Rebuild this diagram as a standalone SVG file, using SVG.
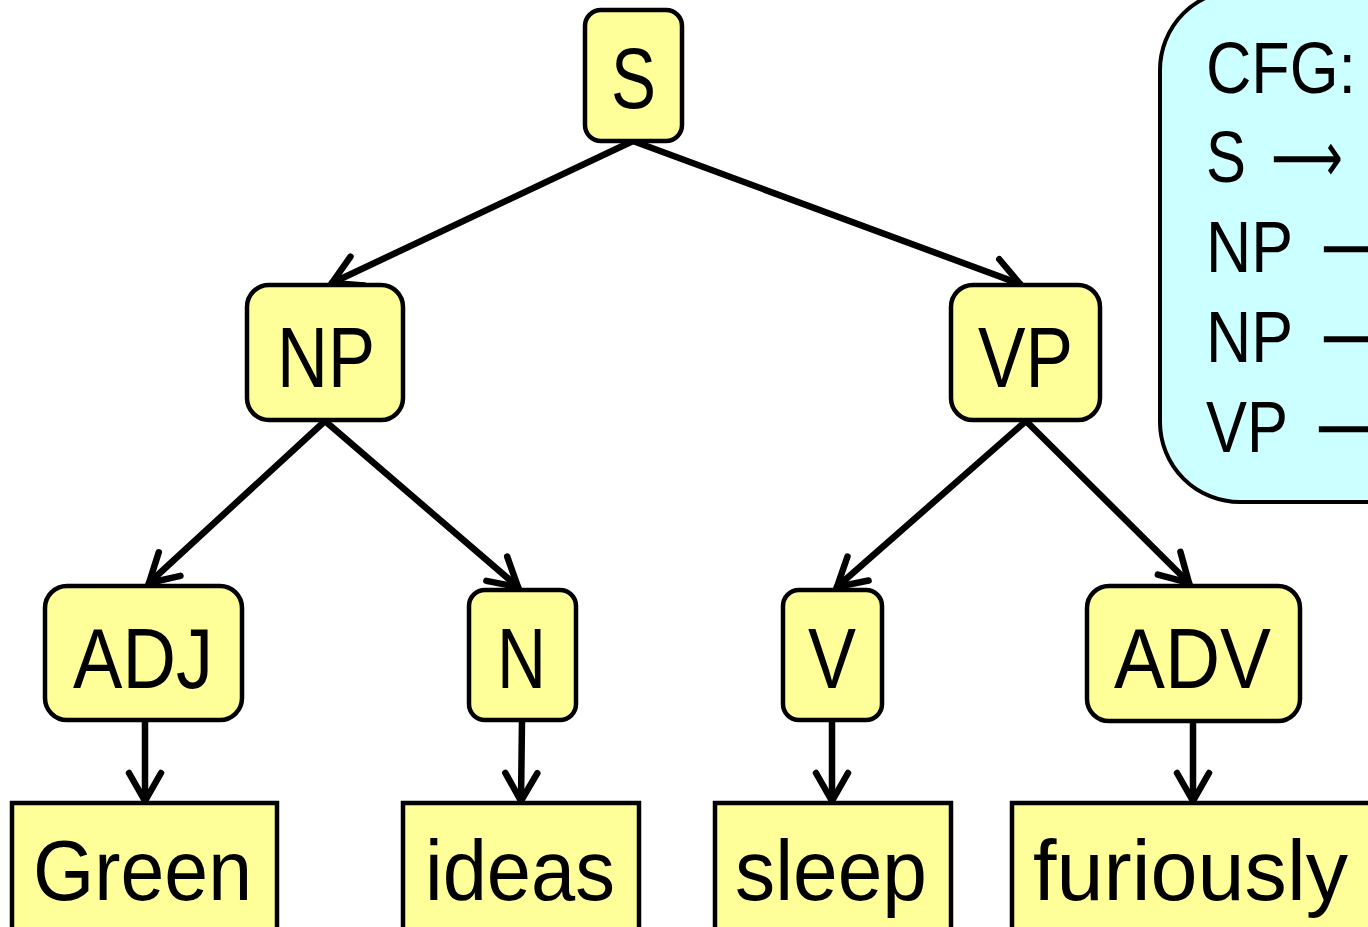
<svg xmlns="http://www.w3.org/2000/svg" width="1368" height="927" viewBox="0 0 1368 927">
<style>
.nd{fill:#ffff99;stroke:#000;stroke-width:4.5}
.t{font-family:"Liberation Sans",Arial,sans-serif;font-size:86px;fill:#000}
.c{font-family:"Liberation Sans",Arial,sans-serif;font-size:72px;fill:#000}
.a{font-family:"DejaVu Sans",sans-serif;font-size:72px;fill:#000}
.e{stroke:#000;stroke-width:6.5;fill:none;stroke-linecap:round;marker-end:url(#ah)}
</style>
<defs>
<marker id="ah" markerUnits="userSpaceOnUse" orient="auto" markerWidth="40" markerHeight="40" refX="0" refY="0" viewBox="-34 -20 40 40" overflow="visible">
<path d="M -28 -16 L 0 0 L -28 16" fill="none" stroke="#000" stroke-width="6.5" stroke-linecap="round" stroke-linejoin="miter"/>
</marker>
</defs>
<rect width="1368" height="927" fill="#fff"/>
<g id="cfg">
<rect x="1160" y="-10" width="300" height="512" rx="80" fill="#ccffff" stroke="#000" stroke-width="4"/>
<text class="c" x="1206" y="93" textLength="150" lengthAdjust="spacingAndGlyphs">CFG:</text>
<text class="c" x="1206" y="182" textLength="40" lengthAdjust="spacingAndGlyphs">S</text>
<text class="a" x="1271" y="182" textLength="72" lengthAdjust="spacingAndGlyphs">⟶</text>
<text class="c" x="1206" y="272" textLength="87" lengthAdjust="spacingAndGlyphs">NP</text>
<text class="a" x="1321" y="272" textLength="72" lengthAdjust="spacingAndGlyphs">⟶</text>
<text class="c" x="1206" y="362" textLength="87" lengthAdjust="spacingAndGlyphs">NP</text>
<text class="a" x="1321" y="362" textLength="72" lengthAdjust="spacingAndGlyphs">⟶</text>
<text class="c" x="1206" y="452" textLength="82" lengthAdjust="spacingAndGlyphs">VP</text>
<text class="a" x="1316" y="452" textLength="72" lengthAdjust="spacingAndGlyphs">⟶</text>
</g>
<g id="connectors">
<line class="e" x1="633" y1="141" x2="332" y2="283"/>
<line class="e" x1="633" y1="141" x2="1020" y2="284"/>
<line class="e" x1="325" y1="421" x2="149" y2="583"/>
<line class="e" x1="325" y1="421" x2="518" y2="587"/>
<line class="e" x1="1026" y1="421" x2="837" y2="587"/>
<line class="e" x1="1026" y1="421" x2="1189" y2="583"/>
<line class="e" x1="145" y1="721" x2="145" y2="801"/>
<line class="e" x1="522" y1="721" x2="521" y2="801"/>
<line class="e" x1="832" y1="721" x2="832" y2="801"/>
<line class="e" x1="1193" y1="722" x2="1193" y2="801"/>
</g>
<g id="S"><rect class="nd" x="585" y="10" width="97" height="131" rx="16"/><text class="t" x="611" y="108" textLength="45" lengthAdjust="spacingAndGlyphs">S</text></g>
<g id="NP"><rect class="nd" x="247" y="285" width="156" height="135" rx="22"/><text class="t" x="277" y="387" textLength="98" lengthAdjust="spacingAndGlyphs">NP</text></g>
<g id="VP"><rect class="nd" x="951" y="285" width="149" height="135" rx="22"/><text class="t" x="978" y="387" textLength="95" lengthAdjust="spacingAndGlyphs">VP</text></g>
<g id="ADJ"><rect class="nd" x="45" y="586" width="197" height="134" rx="22"/><text class="t" x="73" y="688" textLength="140" lengthAdjust="spacingAndGlyphs">ADJ</text></g>
<g id="N"><rect class="nd" x="469" y="590" width="107" height="130" rx="16"/><text class="t" x="497" y="688" textLength="49" lengthAdjust="spacingAndGlyphs">N</text></g>
<g id="V"><rect class="nd" x="783" y="590" width="99" height="130" rx="16"/><text class="t" x="808" y="688" textLength="48" lengthAdjust="spacingAndGlyphs">V</text></g>
<g id="ADV"><rect class="nd" x="1087" y="586" width="213" height="135" rx="22"/><text class="t" x="1114" y="688" textLength="157" lengthAdjust="spacingAndGlyphs">ADV</text></g>
<g id="Green"><rect class="nd" x="12" y="803" width="265" height="140"/><text class="t" x="33" y="900" textLength="219" lengthAdjust="spacingAndGlyphs">Green</text></g>
<g id="ideas"><rect class="nd" x="403" y="803" width="236" height="140"/><text class="t" x="425" y="900" textLength="190" lengthAdjust="spacingAndGlyphs">ideas</text></g>
<g id="sleep"><rect class="nd" x="715" y="803" width="236" height="140"/><text class="t" x="735" y="900" textLength="192" lengthAdjust="spacingAndGlyphs">sleep</text></g>
<g id="furiously"><rect class="nd" x="1012" y="803" width="400" height="140"/><text class="t" x="1033" y="900" textLength="315" lengthAdjust="spacingAndGlyphs">furiously</text></g>
</svg>
